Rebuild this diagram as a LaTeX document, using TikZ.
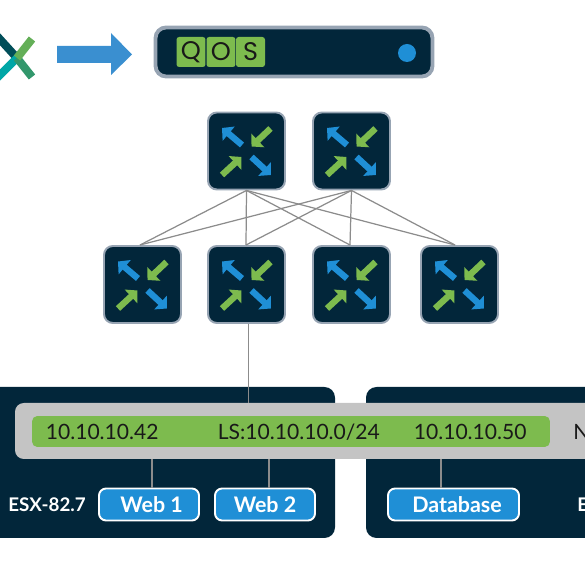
\documentclass[tikz,border=0pt]{standalone}
\usepackage{fontspec}
\setmainfont{Lato}
\newfontfamily\qosfont{Poppins}
\usetikzlibrary{arrows.meta}
\definecolor{navy}{HTML}{02263A}
\definecolor{edgegrey}{HTML}{97A4B3}
\definecolor{leafgreen}{HTML}{7DBB4E}
\definecolor{skyblue}{HTML}{1F8FD6}
\definecolor{arrowblue}{HTML}{3A8FD0}
\definecolor{bandgrey}{HTML}{C4C4C4}
\definecolor{wiregrey}{HTML}{8C8C8C}
\tikzset{
    routerbox/.style={draw=edgegrey,line width=1.1pt,fill=navy,rounded corners=5pt,minimum size=1.54cm,inner sep=0pt},
    vmbox/.style={draw=white,line width=1.1pt,fill=skyblue,rounded corners=4pt,inner sep=0pt,minimum height=.64cm,text=white,font=\fontsize{12.2}{13}\bfseries},
    addr/.style={font=\fontsize{12}{12}\selectfont,text=black!90,inner sep=0pt},
    hostname/.style={anchor=west,inner sep=0pt,text=white,font=\fontsize{10.7}{12}\bfseries},
    wire/.style={draw=wiregrey,line width=.7pt},
    qoscell/.style={fill=leafgreen,rounded corners=1.5pt,minimum width=.58cm,minimum height=.6cm,inner sep=0pt,font=\qosfont\fontsize{14.5}{12}\selectfont,text=black!90},
    flow/.style={line width=3.6pt,-{Triangle[length=5pt,width=10.4pt]}},
    routericon/.pic={
        \draw[flow,skyblue] (-4.5,-6) -- (-24.5,-23);
        \draw[flow,leafgreen] (24,-22.5) -- (5,-4.5);
        \draw[flow,leafgreen] (-24.5,24) -- (-5,6);
        \draw[flow,skyblue] (5,6) -- (24.5,24);
    }
}
\begin{document}
\begin{tikzpicture}[x=.02cm,y=-.02cm]
        \useasboundingbox (0,0) rectangle (585,563);

        % X logo, cut by the page edge
        \draw[line width=4.6pt,navy!55!teal] (-3,36) -- (17,58);
        \draw[line width=4.6pt,teal!70!cyan] (17,58) -- (-3,78);
        \draw[line width=4.6pt,teal!60!leafgreen] (17,58) -- (32,77);
        \draw[line width=4.6pt,leafgreen!80!teal] (17,58) -- (32,39);

        % arrow to the device
        \fill[arrowblue] (57,46) -- (111,46) -- (111,33) -- (132,54.5) -- (111,75) -- (111,63) -- (57,63) -- cycle;

        % qos device
        \node (device) [draw=edgegrey,line width=2.2pt,fill=navy,rounded corners=6pt,minimum width=5.54cm,minimum height=.98cm,inner sep=0pt] at (294,52) {};
        \node (cellq) [qoscell] at (191,52) {Q};
        \node (cello) [qoscell] at (221,52) {O};
        \node (cells) [qoscell] at (250.5,52) {S};
        \node (led) [circle,fill=skyblue,minimum size=.36cm,inner sep=0pt] at (407,53) {};

        % routers
        \node (spine1) [routerbox] at (246.5,151) {};
        \node (spine2) [routerbox] at (351.5,151) {};
        \node (leaf1) [routerbox] at (142.5,284.5) {};
        \node (leaf2) [routerbox] at (246.5,284.5) {};
        \node (leaf3) [routerbox] at (351.5,284.5) {};
        \node (leaf4) [routerbox] at (459.5,284.5) {};
        \pic at (spine1) {routericon};
        \pic at (spine2) {routericon};
        \pic at (leaf1) {routericon};
        \pic at (leaf2) {routericon};
        \pic at (leaf3) {routericon};
        \pic at (leaf4) {routericon};

        \coordinate (up1) at (140,245);
        \coordinate (up2) at (246,245);
        \coordinate (up3) at (350,245);
        \coordinate (up4) at (455,245);
        \draw[wire] (spine1.south) -- (up1);
        \draw[wire] (spine1.south) -- (up2);
        \draw[wire] (spine1.south) -- (up3);
        \draw[wire] (spine1.south) -- (up4);
        \draw[wire] (spine2.south) -- (up1);
        \draw[wire] (spine2.south) -- (up2);
        \draw[wire] (spine2.south) -- (up3);
        \draw[wire] (spine2.south) -- (up4);

        % hosts and the segment across them
        \fill[navy,rounded corners=6pt] (-20,387) rectangle (335,538);
        \fill[navy,rounded corners=6pt] (366,387) rectangle (620,538);
        \fill[bandgrey,rounded corners=5pt] (15,403) rectangle (620,459);
        \node (segment) [fill=leafgreen,rounded corners=3pt,minimum width=10.36cm,minimum height=.62cm,inner sep=0pt] at (291,431.5) {};

        \node (ip1) [addr,anchor=west] at (45.5,432) {10.10.10.42};
        \node (ls) [addr,anchor=west] at (217.5,432) {LS:10.10.10.0/24};
        \node (ip2) [addr,anchor=west] at (413.5,432) {10.10.10.50};
        \node (cut1) [addr,anchor=west] at (573,432) {N};

        \node (web1) [vmbox,minimum width=2cm] at (149,504.5) {\hspace{3pt}Web 1};
        \node (web2) [vmbox,minimum width=2cm] at (265,504.5) {Web 2};
        \node (database) [vmbox,minimum width=2.62cm] at (453.5,504.5) {\hspace{4pt}Database};
        \node (host1) [hostname] at (8,505) {ESX-82.7};
        \node (host2) [hostname] at (577,505) {E};

        \coordinate (drop1) at (152,459);
        \coordinate (drop2) at (269,459);
        \coordinate (drop3) at (441,459);
        \coordinate (uplink) at (248.5,403);
        \draw[wire] (drop1) -- (drop1 |- web1.north);
        \draw[wire] (drop2) -- (drop2 |- web2.north);
        \draw[wire] (drop3) -- (drop3 |- database.north);
        \draw[wire] (uplink |- leaf2.south) -- (uplink);
\end{tikzpicture}
\end{document}
